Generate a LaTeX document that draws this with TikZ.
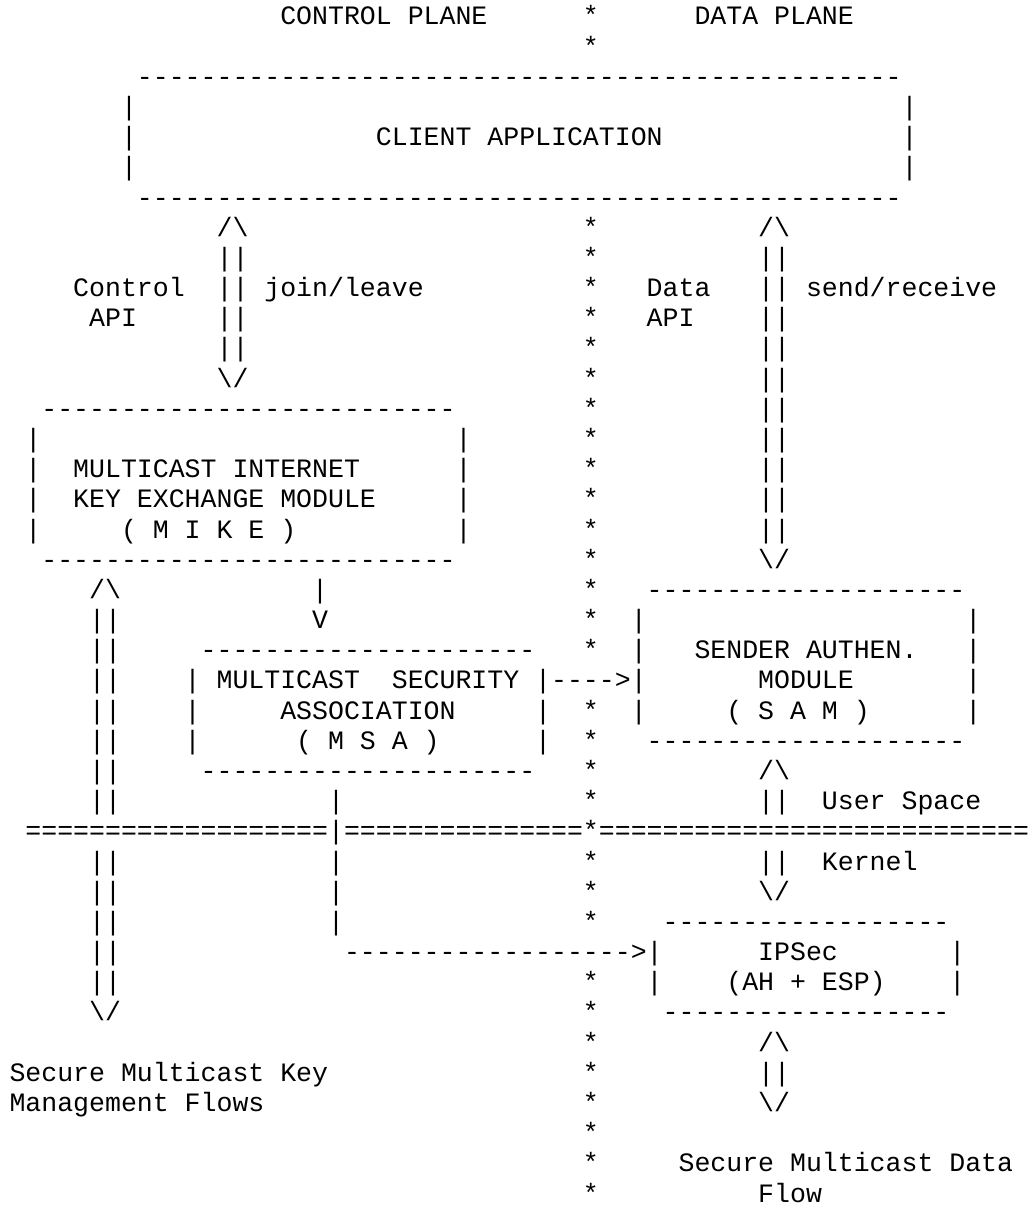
\documentclass[tikz,border=0pt]{standalone}
\usepackage{fontspec}
\setmonofont{Liberation Mono}
\ExplSyntaxOn
\cs_new:Npn \asciirep #1#2 { \prg_replicate:nn {#1} {#2} }
\ExplSyntaxOff
\newcommand\tok[3]{\node[ch] (l#1c#2) at ({9.5+15.93*#2},{-25-30.18*(#1-1)}) {#3};}
\newcommand\bs{\textbackslash}
\begin{document}
\begin{tikzpicture}[x=1pt,y=1pt,
  ch/.style={anchor=base west, inner sep=0pt, outer sep=0pt, text=black,
    font=\ttfamily\fontsize{26.55pt}{30pt}\selectfont}]
\clip (0,0) rectangle (1027,-1206);
\fill[white] (0,0) rectangle (1027,-1206);
% line 1-2
\tok{1}{17}{CONTROL PLANE}\tok{1}{36}{*}\tok{1}{43}{DATA PLANE}
\tok{2}{36}{*}
% client application box
\tok{3}{8}{\asciirep{48}{-}}
\tok{4}{7}{|}\tok{4}{56}{|}
\tok{5}{7}{|}\tok{5}{23}{CLIENT APPLICATION}\tok{5}{56}{|}
\tok{6}{7}{|}\tok{6}{56}{|}
\tok{7}{8}{\asciirep{48}{-}}
% APIs
\tok{8}{13}{/\bs}\tok{8}{36}{*}\tok{8}{47}{/\bs}
\tok{9}{13}{||}\tok{9}{36}{*}\tok{9}{47}{||}
\tok{10}{4}{Control}\tok{10}{13}{||}\tok{10}{16}{join/leave}\tok{10}{36}{*}\tok{10}{40}{Data}\tok{10}{47}{||}\tok{10}{50}{send/receive}
\tok{11}{5}{API}\tok{11}{13}{||}\tok{11}{36}{*}\tok{11}{40}{API}\tok{11}{47}{||}
\tok{12}{13}{||}\tok{12}{36}{*}\tok{12}{47}{||}
\tok{13}{13}{\bs/}\tok{13}{36}{*}\tok{13}{47}{||}
% MIKE box
\tok{14}{2}{\asciirep{26}{-}}\tok{14}{36}{*}\tok{14}{47}{||}
\tok{15}{1}{|}\tok{15}{28}{|}\tok{15}{36}{*}\tok{15}{47}{||}
\tok{16}{1}{|}\tok{16}{4}{MULTICAST INTERNET}\tok{16}{28}{|}\tok{16}{36}{*}\tok{16}{47}{||}
\tok{17}{1}{|}\tok{17}{4}{KEY EXCHANGE MODULE}\tok{17}{28}{|}\tok{17}{36}{*}\tok{17}{47}{||}
\tok{18}{1}{|}\tok{18}{7}{( M I K E )}\tok{18}{28}{|}\tok{18}{36}{*}\tok{18}{47}{||}
\tok{19}{2}{\asciirep{26}{-}}\tok{19}{36}{*}\tok{19}{47}{\bs/}
% MSA and SAM boxes
\tok{20}{5}{/\bs}\tok{20}{19}{|}\tok{20}{36}{*}\tok{20}{40}{\asciirep{20}{-}}
\tok{21}{5}{||}\tok{21}{19}{V}\tok{21}{36}{*}\tok{21}{39}{|}\tok{21}{60}{|}
\tok{22}{5}{||}\tok{22}{12}{\asciirep{21}{-}}\tok{22}{36}{*}\tok{22}{39}{|}\tok{22}{43}{SENDER AUTHEN.}\tok{22}{60}{|}
\tok{23}{5}{||}\tok{23}{11}{|}\tok{23}{13}{MULTICAST}\tok{23}{24}{SECURITY}\tok{23}{33}{|\asciirep{4}{-}>|}\tok{23}{47}{MODULE}\tok{23}{60}{|}
\tok{24}{5}{||}\tok{24}{11}{|}\tok{24}{17}{ASSOCIATION}\tok{24}{33}{|}\tok{24}{36}{*}\tok{24}{39}{|}\tok{24}{45}{( S A M )}\tok{24}{60}{|}
\tok{25}{5}{||}\tok{25}{11}{|}\tok{25}{18}{( M S A )}\tok{25}{33}{|}\tok{25}{36}{*}\tok{25}{40}{\asciirep{20}{-}}
\tok{26}{5}{||}\tok{26}{12}{\asciirep{21}{-}}\tok{26}{36}{*}\tok{26}{47}{/\bs}
\tok{27}{5}{||}\tok{27}{20}{|}\tok{27}{36}{*}\tok{27}{47}{||}\tok{27}{51}{User Space}
% user space / kernel boundary
\tok{28}{1}{\asciirep{19}{=}|\asciirep{15}{=}*\asciirep{27}{=}}
\tok{29}{5}{||}\tok{29}{20}{|}\tok{29}{36}{*}\tok{29}{47}{||}\tok{29}{51}{Kernel}
\tok{30}{5}{||}\tok{30}{20}{|}\tok{30}{36}{*}\tok{30}{47}{\bs/}
% IPSec box
\tok{31}{5}{||}\tok{31}{20}{|}\tok{31}{36}{*}\tok{31}{41}{\asciirep{18}{-}}
\tok{32}{5}{||}\tok{32}{21}{\asciirep{18}{-}>|}\tok{32}{47}{IPSec}\tok{32}{59}{|}
\tok{33}{5}{||}\tok{33}{36}{*}\tok{33}{40}{|}\tok{33}{45}{(AH + ESP)}\tok{33}{59}{|}
\tok{34}{5}{\bs/}\tok{34}{36}{*}\tok{34}{41}{\asciirep{18}{-}}
\tok{35}{36}{*}\tok{35}{47}{/\bs}
\tok{36}{0}{Secure Multicast Key}\tok{36}{36}{*}\tok{36}{47}{||}
\tok{37}{0}{Management Flows}\tok{37}{36}{*}\tok{37}{47}{\bs/}
\tok{38}{36}{*}
\tok{39}{36}{*}\tok{39}{42}{Secure Multicast Data}
\tok{40}{36}{*}\tok{40}{47}{Flow}
\end{tikzpicture}
\end{document}
